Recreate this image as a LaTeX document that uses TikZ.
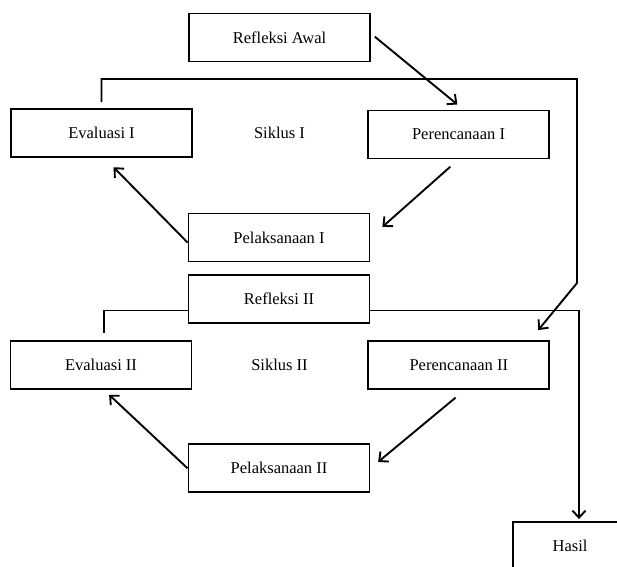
\documentclass[tikz,border=0pt]{standalone}
\usepackage{fontspec}
\setmainfont{Liberation Serif}
\usetikzlibrary{arrows.meta,calc}

\begin{document}
\begin{tikzpicture}[
    x=1pt, y=-1pt,
    stage/.style={draw=black, line width=1.9pt, minimum width=181pt, minimum height=48pt, inner sep=0pt, align=center, font=\fontsize{16.5}{18}\selectfont},
    siklus/.style={font=\fontsize{16.5}{18}\selectfont},
    wire/.style={line width=1.9pt},
    link/.style={line width=1.9pt, -{Straight Barb[length=7pt,width=13pt]}}
]
\clip (0,0) rectangle (617,566);
\fill[white] (0,0) rectangle (617,566);

\node[stage] (ra) at (279.5,37.5) {Refleksi Awal};

\node[stage] (e1) at (101.5,133) {Evaluasi I};
\node[siklus] (s1) at (279.5,133) {Siklus I};
\node[stage] (p1) at (458.5,134.5) {Perencanaan I};
\node[stage] (pel1) at (279,237.5) {Pelaksanaan I};

\node[stage] (r2) at (279,299) {Refleksi II};

\node[stage] (e2) at (101,365) {Evaluasi II};
\node[siklus] (s2) at (279.5,365) {Siklus II};
\node[stage] (p2) at (458.8,365) {Perencanaan II};
\node[stage] (pel2) at (279,468.3) {Pelaksanaan II};

\node[stage, minimum width=114pt] (hasil) at (570,546) {Hasil};

\coordinate (topr) at (577,79);
\coordinate (turn) at (577,283);

\draw[link, shorten <=5pt, shorten >=8pt] ([yshift=4pt]ra.east) -- ([xshift=5pt]p1.north);
\draw[link, shorten <=11pt, shorten >=16pt] (p1.south) -- (pel1.east);
\draw[link, shorten >=13pt] ([yshift=-5pt]pel1.west) -- ([xshift=3pt]e1.south);
\draw[link] ([yshift=6pt]e1.north) |- (topr) -- (turn) -- ([xshift=-12pt,yshift=10pt]p2.north east);

\draw[wire] ([yshift=-11.5pt]r2.west) -| ([xshift=3pt,yshift=7pt]e2.north);
\draw[link, shorten >=2pt] ([yshift=-11.5pt]r2.east) -| ([xshift=9pt]hasil.north);

\draw[link, shorten <=12pt, shorten >=10pt] ([xshift=6pt]p2.south) -- (pel2.east);
\draw[link, shorten >=7pt] (pel2.west) -- ([xshift=3pt]e2.south);
\end{tikzpicture}
\end{document}
